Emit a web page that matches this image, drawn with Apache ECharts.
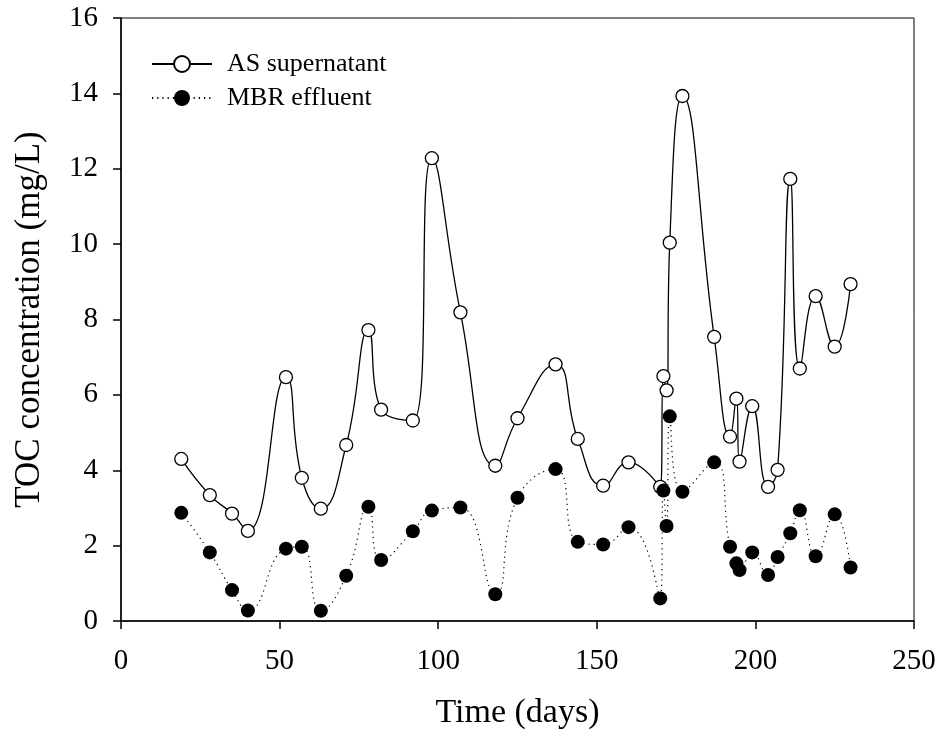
<!DOCTYPE html>
<html>
<head>
<meta charset="utf-8">
<script src="https://cdn.jsdelivr.net/npm/echarts@6/dist/echarts.min.js"></script>
<style>
html,body{margin:0;padding:0;background:#fff;}
#chart{width:942px;height:736px;}
</style>
</head>
<body>
<div id="chart"></div>
<script>
const days = [19,28,35,40,52,57,63,71,78,82,92,98,107,118,125,137,144,152,160,170,171,172,173,177,187,192,194,195,199,204,207,211,214,219,225,230];
const asSupernatant = [4.30,3.34,2.85,2.39,6.47,3.80,2.98,4.67,7.72,5.61,5.32,12.28,8.19,4.12,5.38,6.81,4.83,3.59,4.21,3.56,6.50,6.12,10.04,13.93,7.54,4.89,5.90,4.23,5.70,3.56,4.01,11.73,6.70,8.62,7.28,8.94];
const mbrEffluent = [2.87,1.82,0.82,0.28,1.92,1.97,0.27,1.20,3.03,1.62,2.38,2.93,3.01,0.71,3.27,4.03,2.10,2.03,2.49,0.60,3.46,2.52,5.43,3.43,4.21,1.97,1.53,1.35,1.82,1.22,1.70,2.33,2.94,1.72,2.83,1.42];
const seriesNames = ['AS supernatant','MBR effluent'];
const xTitle = 'Time (days)';
const yTitle = 'TOC concentration (mg/L)';

const font = "'Liberation Serif','Times New Roman',serif";
const chart = echarts.init(document.getElementById('chart'));
const pairs = vals => days.map((d,i)=>[d, vals[i]]);

chart.setOption({
  animation:false,
  backgroundColor:'#fff',
  grid:{left:121,right:28,top:18,bottom:115,show:true,borderColor:'#000',borderWidth:1,backgroundColor:'transparent'},
  legend:{
    orient:'vertical', left:151, top:51, padding:0, itemWidth:60, itemHeight:20, itemGap:8,
    data:seriesNames,
    textStyle:{fontFamily:font,fontSize:26,color:'#000',padding:[0,0,0,10]}
  },
  xAxis:{
    type:'value', min:0, max:250, interval:50,
    name:xTitle, nameLocation:'middle', nameGap:75,
    nameTextStyle:{fontFamily:font,fontSize:34,color:'#000'},
    axisLine:{show:true,lineStyle:{color:'#000',width:1.5}},
    axisTick:{show:true,inside:false,length:8,lineStyle:{color:'#000',width:1.5}},
    axisLabel:{fontFamily:font,fontSize:29,color:'#000',margin:26},
    splitLine:{show:false}
  },
  yAxis:{
    type:'value', min:0, max:16, interval:2,
    name:yTitle, nameLocation:'middle', nameGap:74, nameRotate:90,
    nameTextStyle:{fontFamily:font,fontSize:35,color:'#000'},
    axisLine:{show:true,lineStyle:{color:'#000',width:1.5}},
    axisTick:{show:true,inside:false,length:8,lineStyle:{color:'#000',width:1.5}},
    axisLabel:{fontFamily:font,fontSize:29,color:'#000',margin:23},
    splitLine:{show:false}
  },
  series:[
    {
      name:seriesNames[0], type:'line', data:pairs(asSupernatant), smooth:0.5,
      symbol:'circle', symbolSize:13,
      lineStyle:{color:'#000',width:1.3,type:'solid'},
      itemStyle:{color:'#fff',borderColor:'#000',borderWidth:1.3},
      z:2
    },
    {
      name:seriesNames[1], type:'line', data:pairs(mbrEffluent), smooth:0.5,
      symbol:'circle', symbolSize:14,
      lineStyle:{color:'#000',width:1.2,type:[1.2,4]},
      itemStyle:{color:'#000',borderColor:'#000',borderWidth:0},
      z:3
    }
  ]
});
</script>
</body>
</html>
